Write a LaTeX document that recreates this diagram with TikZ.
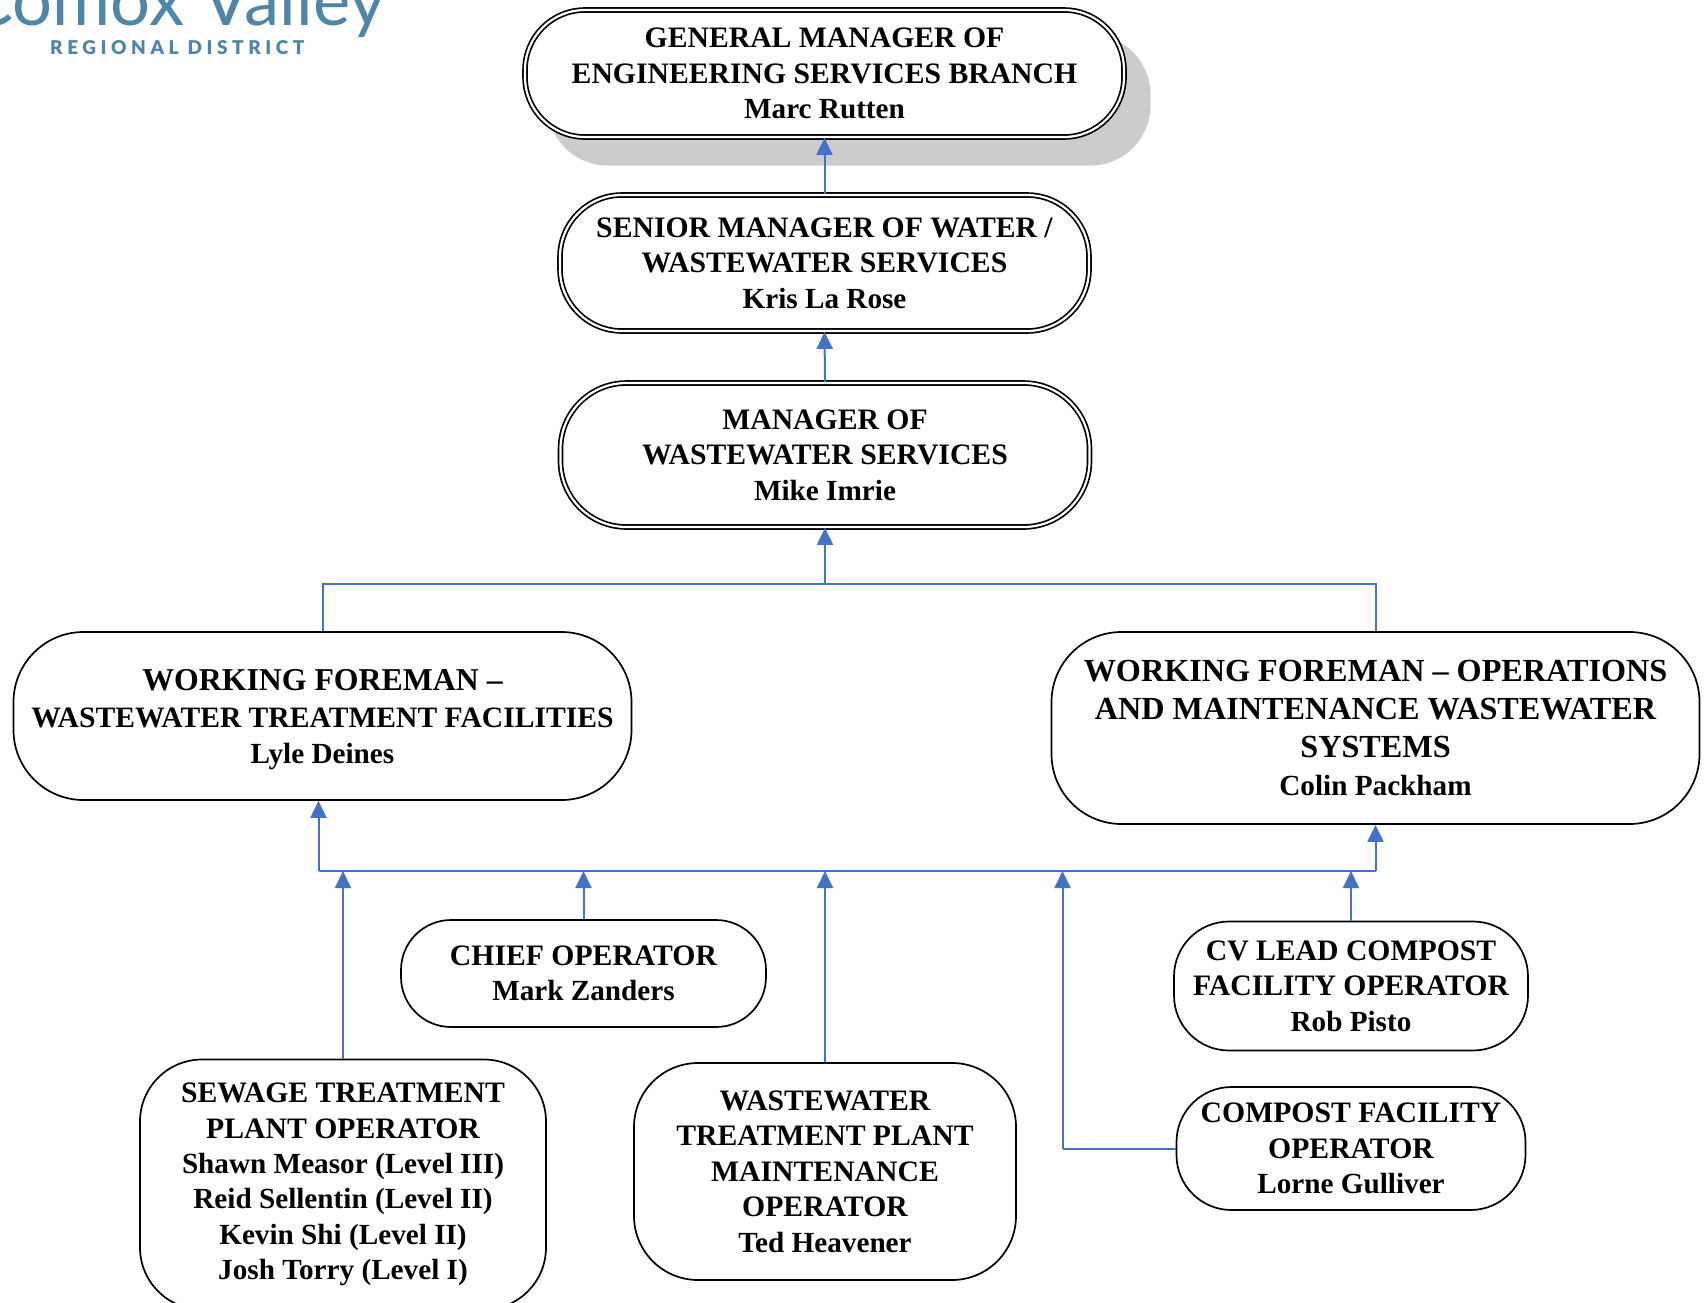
\documentclass[tikz,border=0pt]{standalone}
\usepackage{fontspec}
\setmainfont{Liberation Serif}
\newfontfamily\logofont{Lato}
\newfontfamily\logobold[LetterSpace=24]{Lato Black}
\usetikzlibrary{arrows.meta}
\definecolor{linkblue}{HTML}{4472C4}
\definecolor{logoblue}{HTML}{4F86A8}
\definecolor{shadowgray}{HTML}{CCCCCC}
\newcommand{\nm}[1]{{\bfseries\fontsize{29.2}{35}\selectfont #1}}
\tikzset{
  x=1pt,y=-1pt,
  orgbox/.style={draw=black,line width=1.7pt,fill=white,rounded corners=#1,align=center,inner sep=0pt,anchor=center},
  orgbox/.default=50pt,
  twin/.style={double=white,double distance=2.2pt,line width=1.7pt},
  txt/.style={font=\fontsize{29.7}{35.4}\selectfont\bfseries},
  txtb/.style={font=\fontsize{31.8}{36.6}\selectfont\bfseries},
  txtc/.style={font=\fontsize{32.2}{38}\selectfont\bfseries},
  shadowbox/.style={fill=shadowgray,rounded corners=60pt,inner sep=0pt,anchor=center},
  link/.style={draw=linkblue,line width=2pt},
  arr/.style={link,-{Triangle[width=16pt,length=17pt]}}
}
\begin{document}
\begin{tikzpicture}
\useasboundingbox (0,0) rectangle (1705,1302);
\clip (0,0) rectangle (1705,1302);
\fill[white] (0,0) rectangle (1705,1302);
% logo
\node[anchor=base west,inner sep=0pt,text=logoblue,font=\logofont\fontsize{70.5}{71}\selectfont] (logoa) at (-34,25) {Comox Valley};
\node[anchor=base west,inner sep=0pt,text=logoblue,font=\logobold\fontsize{19}{19}\selectfont] (logob) at (50,54) {REGIONAL DISTRICT};
% boxes
\node[shadowbox,minimum width=603pt,minimum height=131pt] (gmshadow) at (849,100) {};
\node[orgbox=60pt,twin,txt,minimum width=599pt,minimum height=127pt] (gm) at (824.5,73.5)
  {GENERAL MANAGER OF\\ENGINEERING SERVICES BRANCH\\\nm{Marc Rutten}};
\node[orgbox=62pt,twin,txt,minimum width=529pt,minimum height=136pt] (sm) at (824.5,263)
  {SENIOR MANAGER OF WATER /\\WASTEWATER SERVICES\\\nm{Kris La Rose}};
\node[orgbox=66pt,twin,txt,minimum width=529pt,minimum height=144pt] (mgr) at (825,455)
  {MANAGER OF\\WASTEWATER SERVICES\\\nm{Mike Imrie}};
\node[orgbox=70pt,txtb,minimum width=618pt,minimum height=168pt] (wfa) at (322.5,716)
  {\rule{0pt}{29pt}WORKING FOREMAN --\\{\fontsize{29.6}{36.6}\selectfont WASTEWATER TREATMENT FACILITIES}\\\nm{Lyle Deines}};
\node[orgbox=70pt,txtc,minimum width=648pt,minimum height=192pt] (wfb) at (1375.5,728)
  {WORKING FOREMAN -- OPERATIONS\\AND MAINTENANCE WASTEWATER\\SYSTEMS\\\nm{Colin Packham}};
\node[orgbox=50pt,txt,minimum width=365pt,minimum height=107pt] (chief) at (583.5,973.5)
  {CHIEF OPERATOR\\\nm{Mark Zanders}};
\node[orgbox=55pt,txt,minimum width=354pt,minimum height=129pt] (cv) at (1351,986)
  {CV LEAD COMPOST\\FACILITY OPERATOR\\\nm{Rob Pisto}};
\node[orgbox=55pt,txt,minimum width=349pt,minimum height=123pt] (comp) at (1351,1148.5)
  {COMPOST FACILITY\\OPERATOR\\\nm{Lorne Gulliver}};
\node[orgbox=62pt,txt,minimum width=406pt,minimum height=250pt] (sew) at (343,1184.5)
  {SEWAGE TREATMENT\\PLANT OPERATOR\\\nm{Shawn Measor (Level III)}\\\nm{Reid Sellentin (Level II)}\\\nm{Kevin Shi (Level II)}\\\nm{Josh Torry (Level I)}};
\node[orgbox=64pt,txt,minimum width=382pt,minimum height=217pt] (wwt) at (825,1171.5)
  {WASTEWATER\\TREATMENT PLANT\\MAINTENANCE\\OPERATOR\\\nm{Ted Heavener}};
% junction coordinates
\coordinate (topjoin) at (825,584);
\coordinate (busl) at (318.5,871);
\coordinate (busr) at (1375.5,871);
\coordinate (compcorner) at (1062.5,1148.5);
\coordinate (compbus) at (1062.5,871);
% connectors
\draw[arr] (sm.north) -- (gm.south);
\draw[arr] (mgr.north) -- (sm.south);
\draw[arr] (topjoin) -- (mgr.south);
\draw[link] (wfa.north) |- (topjoin) -| (wfb.north);
\draw[arr] (busl) -- (busl |- wfa.south);
\draw[arr] (busr) -- (wfb.south);
\draw[link] (busl) -- (busr);
\draw[arr] (sew.north) -- (sew.north |- busl);
\draw[arr] (chief.north) -- (chief.north |- busl);
\draw[arr] (wwt.north) -- (wwt.north |- busl);
\draw[arr] (cv.north) -- (cv.north |- busl);
\draw[link] (comp.west) -- (compcorner);
\draw[arr] (compcorner) -- (compbus);
\end{tikzpicture}
\end{document}
